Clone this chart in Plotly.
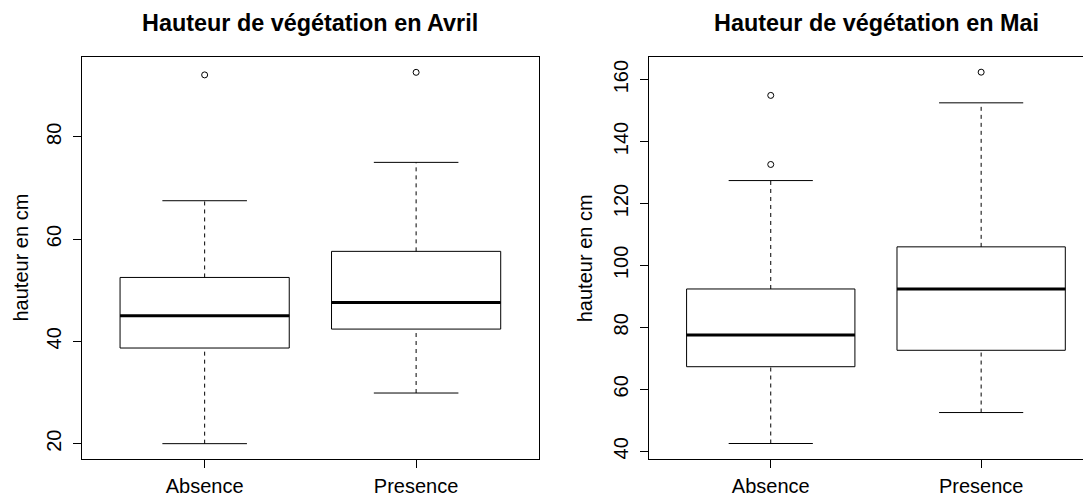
import plotly.graph_objects as go

# ---------------- data ----------------
categories = ["Absence", "Presence"]
cat_pos = [1, 2]

avril_low = [20.0, 29.9]
avril_q1 = [38.7, 42.4]
avril_med = [45.0, 47.6]
avril_q3 = [52.5, 57.6]
avril_high = [67.5, 75.0]
avril_out_absence = [92.1]
avril_out_presence = [92.6]

mai_low = [42.5, 52.5]
mai_q1 = [67.3, 72.6]
mai_med = [77.5, 92.4]
mai_q3 = [92.4, 106.0]
mai_high = [127.4, 152.5]
mai_out_absence = [154.9, 132.6]
mai_out_presence = [162.4]

avril_ticks = [20, 40, 60, 80]
mai_ticks = [40, 60, 80, 100, 120, 140, 160]

titles = ["Hauteur de végétation en Avril", "Hauteur de végétation en Mai"]
ylabel = "hauteur en cm"

# ---------------- style ----------------
FONT = "Liberation Sans, Arial, sans-serif"
BOX_W = 0.8
CAP_W = 0.4
OFF = 8  # page body margin

fig = go.Figure()


def add_panel(xa, ya, low, q1, med, q3, high, outs):
    for i, x in enumerate(cat_pos):
        fig.add_trace(go.Box(
            x=[x], q1=[q1[i]], median=[med[i]], q3=[q3[i]],
            lowerfence=[q1[i]], upperfence=[q3[i]],
            width=BOX_W, whiskerwidth=0, fillcolor="white",
            line=dict(color="black", width=1), boxpoints=False,
            xaxis=xa, yaxis=ya, showlegend=False, hoverinfo="skip"))
        fig.add_trace(go.Scatter(
            x=[x - BOX_W / 2, x + BOX_W / 2], y=[med[i], med[i]], mode="lines",
            line=dict(color="black", width=3), xaxis=xa, yaxis=ya,
            showlegend=False, hoverinfo="skip"))
        for a, b in ((q3[i], high[i]), (low[i], q1[i])):
            fig.add_trace(go.Scatter(
                x=[x, x], y=[a, b], mode="lines",
                line=dict(color="black", width=1, dash="4px,4px"),
                xaxis=xa, yaxis=ya, showlegend=False, hoverinfo="skip"))
        for v in (high[i], low[i]):
            fig.add_trace(go.Scatter(
                x=[x - CAP_W / 2, x + CAP_W / 2], y=[v, v], mode="lines",
                line=dict(color="black", width=1),
                xaxis=xa, yaxis=ya, showlegend=False, hoverinfo="skip"))
        fig.add_trace(go.Scatter(
            x=[x] * len(outs[i]), y=outs[i], mode="markers",
            marker=dict(symbol="circle-open", size=6, color="black",
                        line=dict(width=1, color="black")),
            xaxis=xa, yaxis=ya, showlegend=False, hoverinfo="skip"))


add_panel("x", "y", avril_low, avril_q1, avril_med, avril_q3, avril_high,
          [avril_out_absence, avril_out_presence])
add_panel("x2", "y2", mai_low, mai_q1, mai_med, mai_q3, mai_high,
          [mai_out_absence, mai_out_presence])

W, H = 1091 - OFF, 497 - OFF
ML, MR, MT, MB = 81.5 - OFF, 0, 57.3 - OFF, 497 - 459.3
PW = W - ML - MR
PH = H - MT - MB

left_dom = [0, 457 / PW]
right_dom = [(648.5 - OFF - ML) / PW, 1]

common_x = dict(showline=True, linecolor="black", linewidth=1, mirror=True,
                ticks="outside", ticklen=8, tickcolor="black", tickwidth=1,
                showgrid=False, zeroline=False, tickvals=cat_pos,
                ticktext=categories, ticklabelstandoff=1,
                tickfont=dict(family=FONT, size=20, color="black"))
common_y = dict(showline=True, linecolor="black", linewidth=1,
                ticks="outside", ticklen=8, tickcolor="black", tickwidth=1,
                showgrid=False, zeroline=False, tickangle=-90,
                ticklabelstandoff=4,
                tickfont=dict(family=FONT, size=20, color="black"))

fig.update_layout(
    width=W, height=H,
    margin=dict(l=ML, r=MR, t=MT, b=MB, pad=0),
    paper_bgcolor="white", plot_bgcolor="white",
    font=dict(family=FONT, color="black"),
    showlegend=False,
    xaxis=dict(domain=left_dom, range=[0.42, 2.58], anchor="y", **common_x),
    yaxis=dict(range=[17.0, 95.6], tickvals=avril_ticks, anchor="x",
               mirror=True, **common_y),
    xaxis2=dict(domain=right_dom,
                range=[0.42, 0.42 + (1091 - 648.5) / 210.5],
                anchor="y2", **common_x),
    yaxis2=dict(range=[37.5, 167.3], tickvals=mai_ticks, anchor="x2",
                mirror=False, **common_y),
)

title_y = 1 + (MT - (23 - OFF)) / PH
fig.add_annotation(text="<b>" + titles[0] + "</b>", xref="paper", yref="paper",
                   x=(left_dom[0] + left_dom[1]) / 2, y=title_y,
                   xanchor="center", yanchor="middle", showarrow=False,
                   font=dict(family=FONT, size=23.4, color="black"))
fig.add_annotation(text="<b>" + titles[1] + "</b>", xref="paper", yref="paper",
                   x=(876 - OFF - ML) / PW, y=title_y,
                   xanchor="center", yanchor="middle", showarrow=False,
                   font=dict(family=FONT, size=23.4, color="black"))

for px in (20, 585):
    fig.add_annotation(text=ylabel, xref="paper", yref="paper",
                       x=(px - OFF - ML) / PW, y=0.5, textangle=-90,
                       xanchor="center", yanchor="middle", showarrow=False,
                       font=dict(family=FONT, size=20, color="black"))

fig.write_html("out.html")
